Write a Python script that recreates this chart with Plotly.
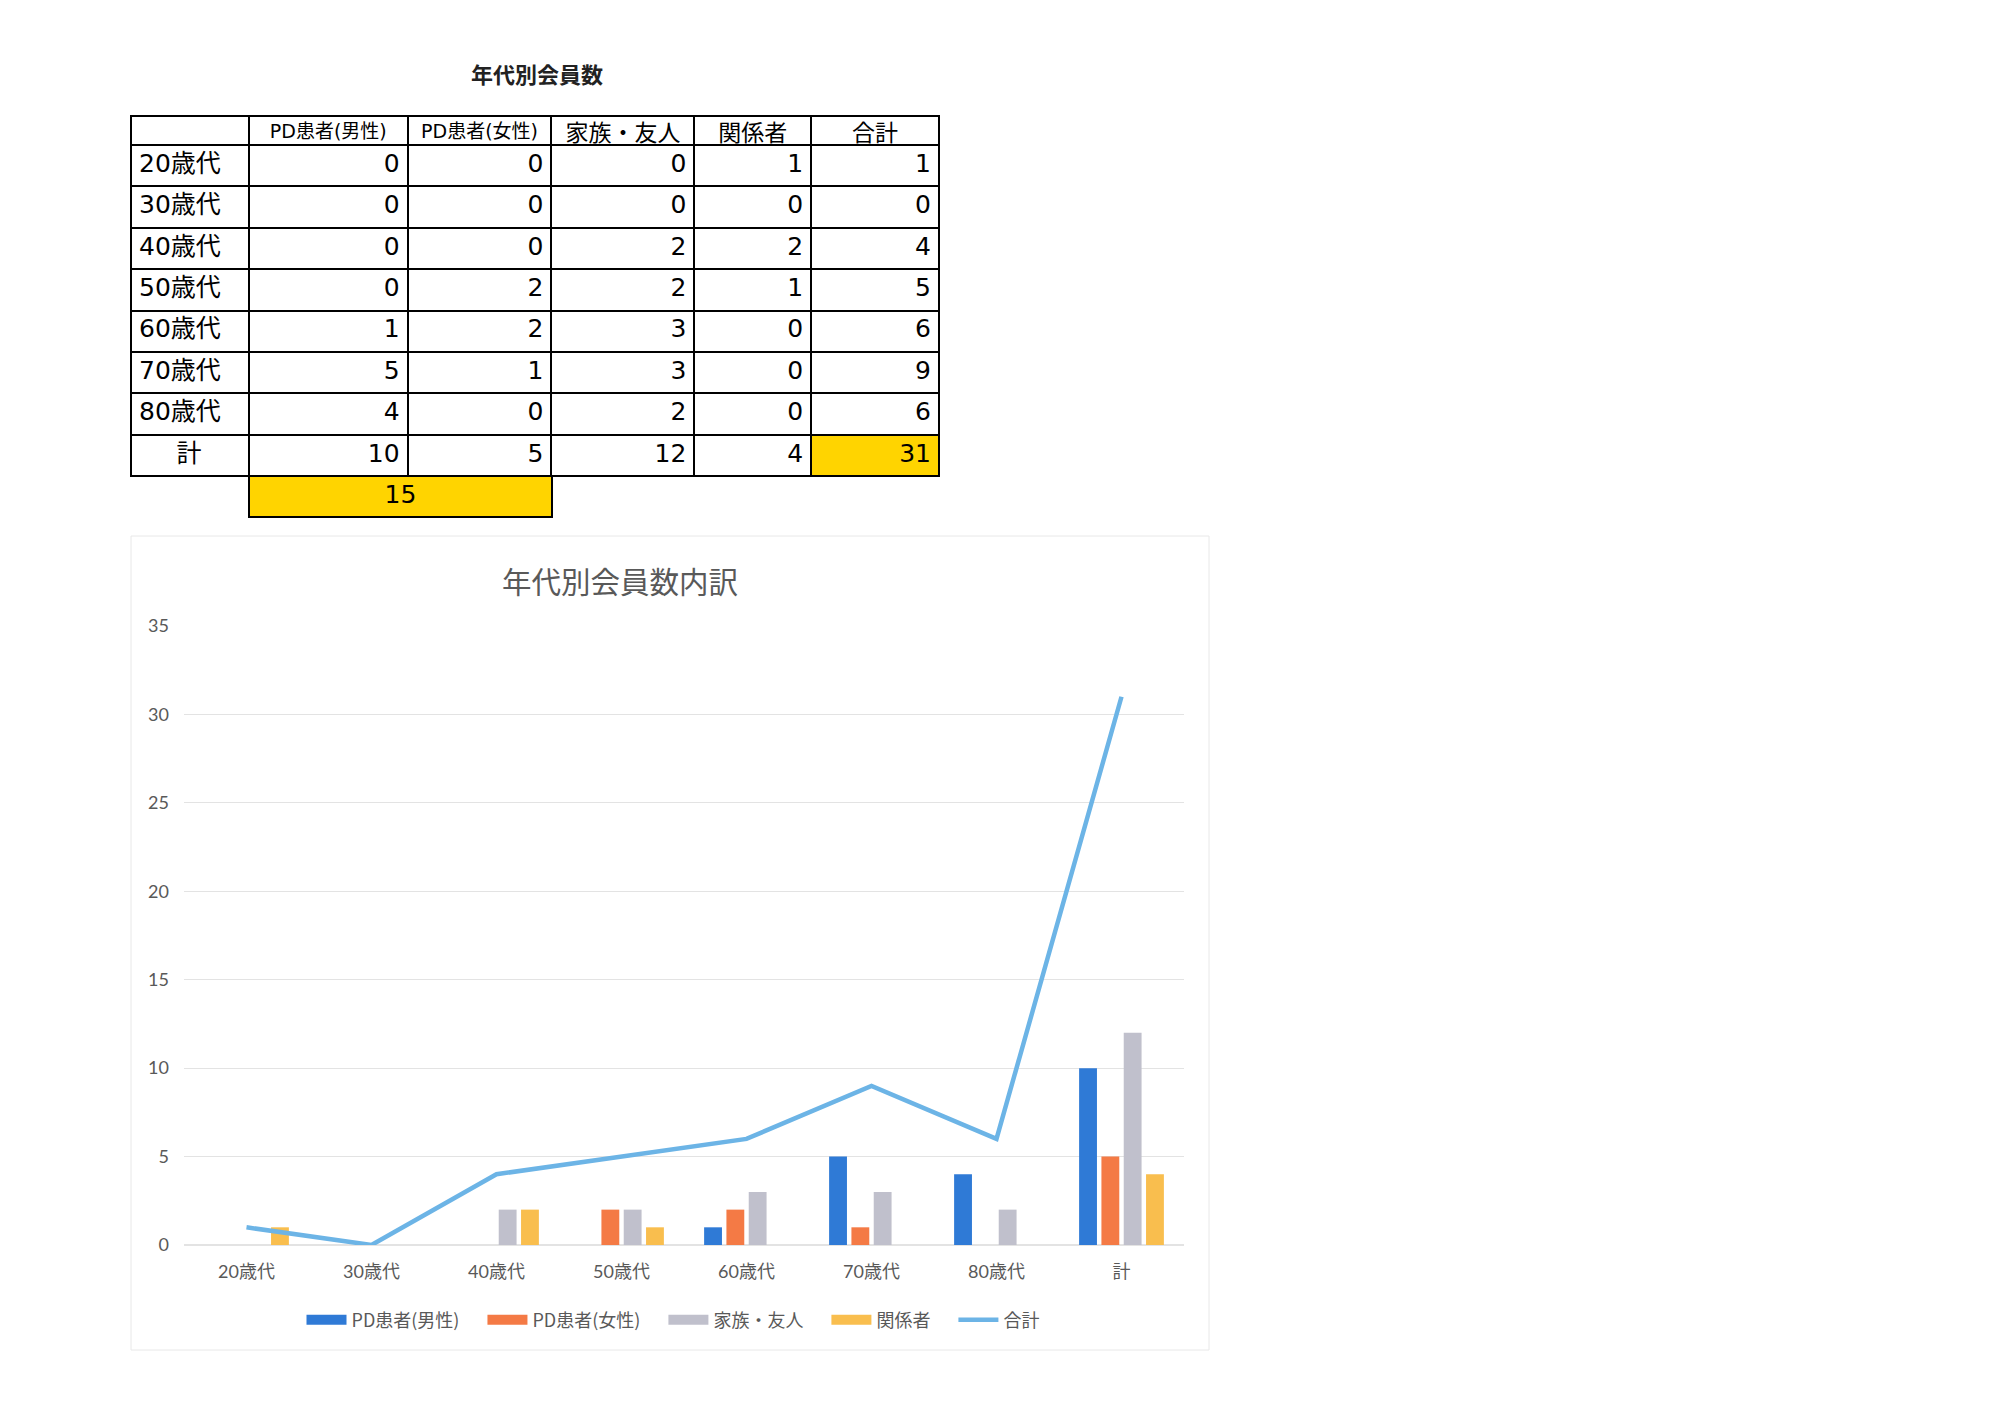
import plotly.graph_objects as go

# 表と図のデータ
series_names = ["PD患者(男性)", "PD患者(女性)", "家族・友人", "関係者"]
total_name = "合計"
age_groups = ["20歳代", "30歳代", "40歳代", "50歳代", "60歳代", "70歳代", "80歳代"]
sum_label = "計"

pd_male = [0, 0, 0, 0, 1, 5, 4]
pd_female = [0, 0, 0, 2, 2, 1, 0]
family = [0, 0, 2, 2, 3, 3, 2]
related = [1, 0, 2, 1, 0, 0, 0]
row_totals = [1, 0, 4, 5, 6, 9, 6]

column_sums = [10, 5, 12, 4]
grand_total = 31
pd_patient_total = 15

table_title = "年代別会員数"
chart_title = "年代別会員数内訳"

W, H = 2000, 1415
JP = "Noto Sans CJK JP"
NUM = "DejaVu Sans, Noto Sans CJK JP"
GRAY_TXT = "#595959"
YELLOW = "#FFD400"
colors = ["#2F7AD6", "#F47A45", "#C0C0CC", "#F9BE4E"]
line_color = "#6CB4E6"


def px_x(v):
    return v / W


def px_y(v):
    return 1 - v / H


# ---- table ----
series = [pd_male, pd_female, family, related]
# 計 is centred in the first column; en spaces push it over
col_values = [age_groups + ["\u2002\u2002\u2002" + sum_label]]
for s, cs in zip(series, column_sums):
    col_values.append(s + [cs])
col_values.append(row_totals + [grand_total])

n_rows = len(age_groups) + 1
fills = [["white"] * n_rows for _ in col_values]
fills[-1][-1] = YELLOW

fig = go.Figure()

fig.add_trace(go.Table(
    domain=dict(x=[px_x(131), px_x(940)], y=[px_y(495), px_y(116)]),
    columnwidth=[118, 159, 144, 143, 117, 128],
    header=dict(
        values=[""] + series_names + [total_name],
        height=29,
        align="center",
        fill_color="white",
        line=dict(color="black", width=2),
        font=dict(family=NUM, color="black", size=[19, 19, 19, 23, 23, 23]),
    ),
    cells=dict(
        values=col_values,
        height=41.4,
        align=["left", "right", "right", "right", "right", "right"],
        fill_color=fills,
        line=dict(color="black", width=2),
        font=dict(family=NUM, color="black", size=25),
    ),
))

# PD患者 合計
fig.add_trace(go.Table(
    domain=dict(x=[px_x(249), px_x(552)], y=[px_y(525), px_y(476)]),
    header=dict(
        values=[str(pd_patient_total)],
        height=41,
        align="center",
        fill_color=YELLOW,
        line=dict(color="black", width=2),
        font=dict(family=NUM, color="black", size=25),
    ),
    cells=dict(values=[[]], height=1, line=dict(width=0)),
))

# ---- chart ----
categories = age_groups + [sum_label]
for name, s, cs, c in zip(series_names, series, column_sums, colors):
    fig.add_trace(go.Bar(
        x=categories, y=s + [cs], name=name,
        marker=dict(color=c, line=dict(width=0)),
        showlegend=False, legendgroup=name,
    ))
    # wide swatch for the legend, with a little extra room after the text
    fig.add_trace(go.Scatter(
        x=[None], y=[None], mode="lines", name=name + "\u2003", legendgroup=name,
        line=dict(color=c, width=10),
    ))

fig.add_trace(go.Scatter(
    x=categories, y=row_totals + [grand_total], name=total_name,
    mode="lines", line=dict(color=line_color, width=4.5),
))

fig.add_annotation(
    x=px_x(537), y=px_y(73), xref="paper", yref="paper",
    xanchor="center", yanchor="middle",
    text=table_title, showarrow=False,
    font=dict(family=JP, size=22, color="#222222", weight="bold"),
)

fig.add_shape(
    type="rect", xref="paper", yref="paper",
    x0=px_x(131), x1=px_x(1209), y0=px_y(1350), y1=px_y(536),
    line=dict(color="#E8E8E8", width=1), layer="below",
)

fig.update_layout(
    width=W, height=H,
    margin=dict(l=0, r=0, t=0, b=0, autoexpand=False),
    paper_bgcolor="white", plot_bgcolor="white",
    title=dict(
        text=chart_title, x=px_x(620), y=px_y(583),
        xanchor="center", yanchor="middle",
        font=dict(family=JP, size=29.5, color=GRAY_TXT),
    ),
    barmode="group", bargap=0.286, bargroupgap=0.2,
    xaxis=dict(
        domain=[px_x(184), px_x(1184)], anchor="y",
        type="category", showgrid=False, zeroline=False, showline=False,
        ticks="", ticklabelstandoff=14,
        tickfont=dict(family="Lato, " + JP, size=18, color=GRAY_TXT),
    ),
    yaxis=dict(
        domain=[px_y(1245), px_y(626)], anchor="x",
        range=[0, 35], dtick=5, showgrid=True, gridcolor="#E3E3E3",
        zeroline=True, zerolinecolor="#E3E3E3", showline=False, ticks="",
        ticklabelstandoff=14,
        tickfont=dict(family="Lato, " + JP, size=18, color=GRAY_TXT),
    ),
    legend=dict(
        orientation="h", x=px_x(673), y=px_y(1320),
        xanchor="center", yanchor="middle",
        font=dict(family=JP, size=18, color=GRAY_TXT),
        itemwidth=40, traceorder="normal",
    ),
)

fig.write_html("out.html", config={"displayModeBar": False},
               post_script="document.body.style.margin='0';")
